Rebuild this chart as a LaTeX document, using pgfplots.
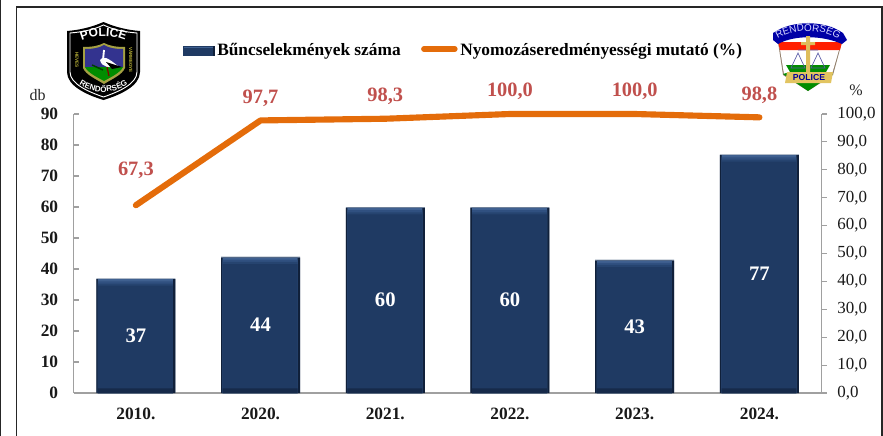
\documentclass[border=0pt]{standalone}
\usepackage{fontspec}
\setmainfont{Liberation Serif}
\newfontfamily\logofont{Liberation Sans}
\usepackage{pgfplots}
\usepackage{pgfplotstable}
\pgfplotsset{compat=1.18}
\usetikzlibrary{decorations.text}
\definecolor{barmain}{HTML}{1F3A63}
\definecolor{bardark}{HTML}{10203A}
\definecolor{barlight}{HTML}{3F6090}
\definecolor{barmidA}{HTML}{305080}
\definecolor{barmidB}{HTML}{264470}
\definecolor{baredge}{HTML}{8695AB}
\definecolor{lineorange}{HTML}{E46C0A}
\definecolor{labred}{HTML}{C0504D}
\definecolor{axgray}{HTML}{A0A0A0}
\pgfplotstableread{
x v
0 37
1 44
2 60
3 60
4 43
5 77
}\bars
\pgfplotstableread{
x p ypos lab
0 67.3 79.9 67,3
1 97.7 105.7 97,7
2 98.3 106.4 98,3
3 100.0 108.2 100,0
4 100.0 108.2 100,0
5 98.8 106.8 98,8
}\rate
\begin{document}
\begin{tikzpicture}
\useasboundingbox (0,0) rectangle (662.25pt,-327pt);
% frame
\begin{scope}[x=0.75pt,y=-0.75pt]
\draw[black!85,line width=0.9pt] (16.5,436) -- (16.5,7) -- (882,7) -- (882,436);
\draw[black!85,line width=1pt] (0.3,0) -- (0.3,436);
% left badge
\fill[black] (67,31) .. controls (80,30) and (92,27) .. (103.5,22) .. controls (115,27) and (127,30) .. (140,31) -- (140,72) .. controls (140,86) and (120,95) .. (103.5,100) .. controls (87,95) and (67,86) .. (67,72) -- cycle;
\draw[white,line width=0.7pt] (70,33) .. controls (82,32) and (93,30) .. (103.5,25) .. controls (114,30) and (125,32) .. (137,33) -- (137,72) .. controls (137,84) and (118,92) .. (103.5,97) .. controls (89,92) and (70,84) .. (70,72) -- cycle;
\fill[yellow!60!black] (83,47) .. controls (92,47) and (98,46) .. (104,43) .. controls (110,46) and (116,47) .. (125,47) -- (125,68) .. controls (122,75) and (112,79) .. (104,84) .. controls (96,79) and (86,75) .. (83,68) -- cycle;
\fill[blue!45!black!80!white] (85,49) .. controls (93,49) and (99,48) .. (104,45) .. controls (109,48) and (115,49) .. (123,49) -- (123,67) -- (85,67) -- cycle;
\fill[green!55!black] (85,67) -- (123,67) .. controls (120,73) and (111,77) .. (104,81) .. controls (97,77) and (88,73) .. (85,67) -- cycle;
\fill[white] (100,60) .. controls (103,55) and (108,58) .. (118,66) .. controls (110,68) and (102,68) .. (100,60) -- cycle;
\draw[white,line width=1.4pt] (103,60) -- (104,50);
\fill[black] (106,62) -- (122,67) -- (112,69) -- cycle;
\draw[red!50!black,line width=0.9pt] (107,67) -- (109,76);
\draw[green!25!black,line width=1.1pt] (92,65) -- (103,70);
\path[decorate,decoration={text along path,text align=center,text={|\logofont\bfseries\fontsize{9pt}{10pt}\selectfont\color{white}|POLICE}}] (75,44) .. controls (90,33.5) and (117,33.5) .. (132,44);
\path[decorate,decoration={text along path,text align=center,text={|\logofont\bfseries\fontsize{6pt}{7pt}\selectfont\color{white}|RENDŐRSÉG}}] (73,80) .. controls (90,96) and (117,96) .. (134,80);
\node[rotate=-90,text=yellow!70!black,font=\logofont\bfseries\fontsize{3.4pt}{4pt}\selectfont,inner sep=0] at (77,60) {HEVES};
\node[rotate=-90,text=yellow!70!black,font=\logofont\bfseries\fontsize{3.4pt}{4pt}\selectfont,inner sep=0] at (131,60) {VÁRMEGYE};
% right badge
\fill[gray!70!brown] (778,42) -- (842,42) -- (833,75) -- (808,91) -- (783,75) -- cycle;
\fill[white] (779,43) -- (841,43) -- (832,74) -- (808,89) -- (784,74) -- cycle;
\fill[red!75!orange] (778,42) -- (842,42) -- (840,50) -- (780,50) -- cycle;
\fill[green!55!black] (786,65) -- (830,65) -- (826,72) -- (833,74) -- (808,91) -- (783,74) -- (790,72) -- cycle;
\fill[blue!65!black] (773,33) -- (778,30) .. controls (795,21) and (821,21) .. (838,30) -- (843,33) -- (847,40) -- (842,44) .. controls (822,35) and (794,35) .. (778,44) -- (773,40) -- cycle;
\path[decorate,decoration={text along path,text align=center,text={|\logofont\fontsize{7.4pt}{9pt}\selectfont\color{white!85!blue}|RENDŐRSÉG}}] (776,40) .. controls (795,28) and (821,28) .. (840,40);
\draw[blue!30!gray,line width=0.5pt] (798,53) -- (791,68) -- (805,68) -- cycle (818,53) -- (811,68) -- (825,68) -- cycle (798,50) -- (818,50);
\fill[yellow!35!brown!85!white] (806,36) rectangle (810,72) (801,42) rectangle (815,45);
\fill[yellow!40!brown!80!white] (787,72) -- (833,72) -- (831,83) -- (785,83) -- cycle;
\node[text=blue!60!black,font=\logofont\bfseries\fontsize{6.5pt}{7pt}\selectfont,inner sep=0] at (809,77.5) {POLICE};
% unit labels
\node[font=\fontsize{12pt}{14pt}\selectfont,text=black!85,inner sep=0] at (37.5,95) {db};
\node[font=\fontsize{12pt}{14pt}\selectfont,text=black!85,inner sep=0] at (856,90) {\%};
\end{scope}
% columns
\begin{axis}[
  at={(55.125pt,-294.75pt)},anchor=south west,
  scale only axis,width=561.2pt,height=209.25pt,
  xmin=-0.5,xmax=5.5,ymin=0,ymax=90,
  axis y line*=left,axis x line*=bottom,
  axis line style={axgray,-,line width=0.9pt},
  xtick={0,1,2,3,4,5},
  xticklabels={2010.,2020.,2021.,2022.,2023.,2024.},
  x tick style={draw=none},
  major tick length=3.75pt,
  ytick={0,10,...,90},
  y tick style={axgray,line width=0.8pt},
  tick align=inside,
  /pgf/number format/assume math mode=true,
  ticklabel style={font=\bfseries\fontsize{13pt}{15pt}\selectfont,text=black!90},
  yticklabel style={xshift=-8pt},
  xticklabel style={yshift=-8pt},
  clip=false,
]
\addplot[ybar,bar shift=0pt,bar width=59.25pt,fill=baredge,draw=none] table[x=x,y=v] {\bars};
\addplot[ybar,bar shift=0pt,bar width=59.25pt,fill=bardark,draw=none] table[x=x,y expr=\thisrow{v}-0.3] {\bars};
\addplot[ybar,bar shift=-0.3pt,bar width=56.2pt,fill=barlight,draw=none] table[x=x,y expr=\thisrow{v}-0.3] {\bars};
\addplot[ybar,bar shift=-0.3pt,bar width=56.2pt,fill=barmidA,draw=none] table[x=x,y expr=\thisrow{v}-1.0] {\bars};
\addplot[ybar,bar shift=-0.3pt,bar width=56.2pt,fill=barmidB,draw=none] table[x=x,y expr=\thisrow{v}-1.7] {\bars};
\addplot[ybar,bar shift=-0.3pt,bar width=56.2pt,fill=barmain,draw=none] table[x=x,y expr=\thisrow{v}-2.4] {\bars};
\addplot[ybar,bar shift=-0.3pt,bar width=56.2pt,fill=bardark!60!barmain,draw=none] table[x=x,y expr=1.5] {\bars};
\addplot[only marks,mark=none,point meta=explicit,
  nodes near coords,
  nodes near coords style={anchor=center,text=white,font=\bfseries\fontsize{15.5pt}{17pt}\selectfont,
    /pgf/number format/assume math mode=true,/pgf/number format/fixed,/pgf/number format/precision=0},
 ] table[x=x,y expr=\thisrow{v}/2,meta=v] {\bars};
\end{axis}
% rate
\begin{axis}[
  at={(55.125pt,-294.75pt)},anchor=south west,
  scale only axis,width=561.2pt,height=209.25pt,
  xmin=-0.5,xmax=5.5,ymin=0,ymax=100,
  axis y line*=right,axis x line=none,
  axis line style={axgray,-,line width=0.9pt},
  ytick={0,10,...,100},
  y tick style={axgray,line width=0.8pt},
  major tick length=3.75pt,
  tick align=outside,
  /pgf/number format/assume math mode=true,
  /pgf/number format/fixed,/pgf/number format/fixed zerofill,/pgf/number format/precision=1,
  /pgf/number format/use comma,/pgf/number format/1000 sep={},
  ticklabel style={font=\fontsize{12.7pt}{15pt}\selectfont,text=black!90},
  yticklabel style={xshift=4.5pt},
  clip=false,
  legend style={at={(0.146,1.228)},anchor=west,draw=none,fill=none,inner sep=0pt,outer sep=0pt,
    font=\bfseries\fontsize{13pt}{15pt}\selectfont,legend columns=2,
    /tikz/every even column/.append style={column sep=13.3pt}},
  legend cell align=left,
]
\addlegendimage{legend image code/.code={\fill[barmain] (-4pt,-3.4pt) rectangle (19.5pt,3.4pt);\draw[barlight,line width=0.5pt] (-3pt,2.3pt) -- (18.5pt,2.3pt);\fill[bardark] (18.5pt,-3.4pt) rectangle (19.5pt,3.4pt);}}
\addlegendentry{Bűncselekmények száma}
\addlegendimage{legend image code/.code={\draw[lineorange,line width=4.4pt,line cap=round] (-2pt,1pt) -- (21pt,1pt);}}
\addlegendentry{Nyomozáseredményességi mutató (\%)}
\addplot[forget plot,lineorange,line width=4.6pt,line cap=round,line join=round,mark=none] table[x=x,y=p] {\rate};
\addplot[only marks,mark=none,point meta=explicit symbolic,forget plot,
  nodes near coords,
  nodes near coords style={anchor=center,text=labred,font=\bfseries\fontsize{15.3pt}{17pt}\selectfont},
 ] table[x=x,y=ypos,meta=lab] {\rate};
\end{axis}
\end{tikzpicture}
\end{document}
